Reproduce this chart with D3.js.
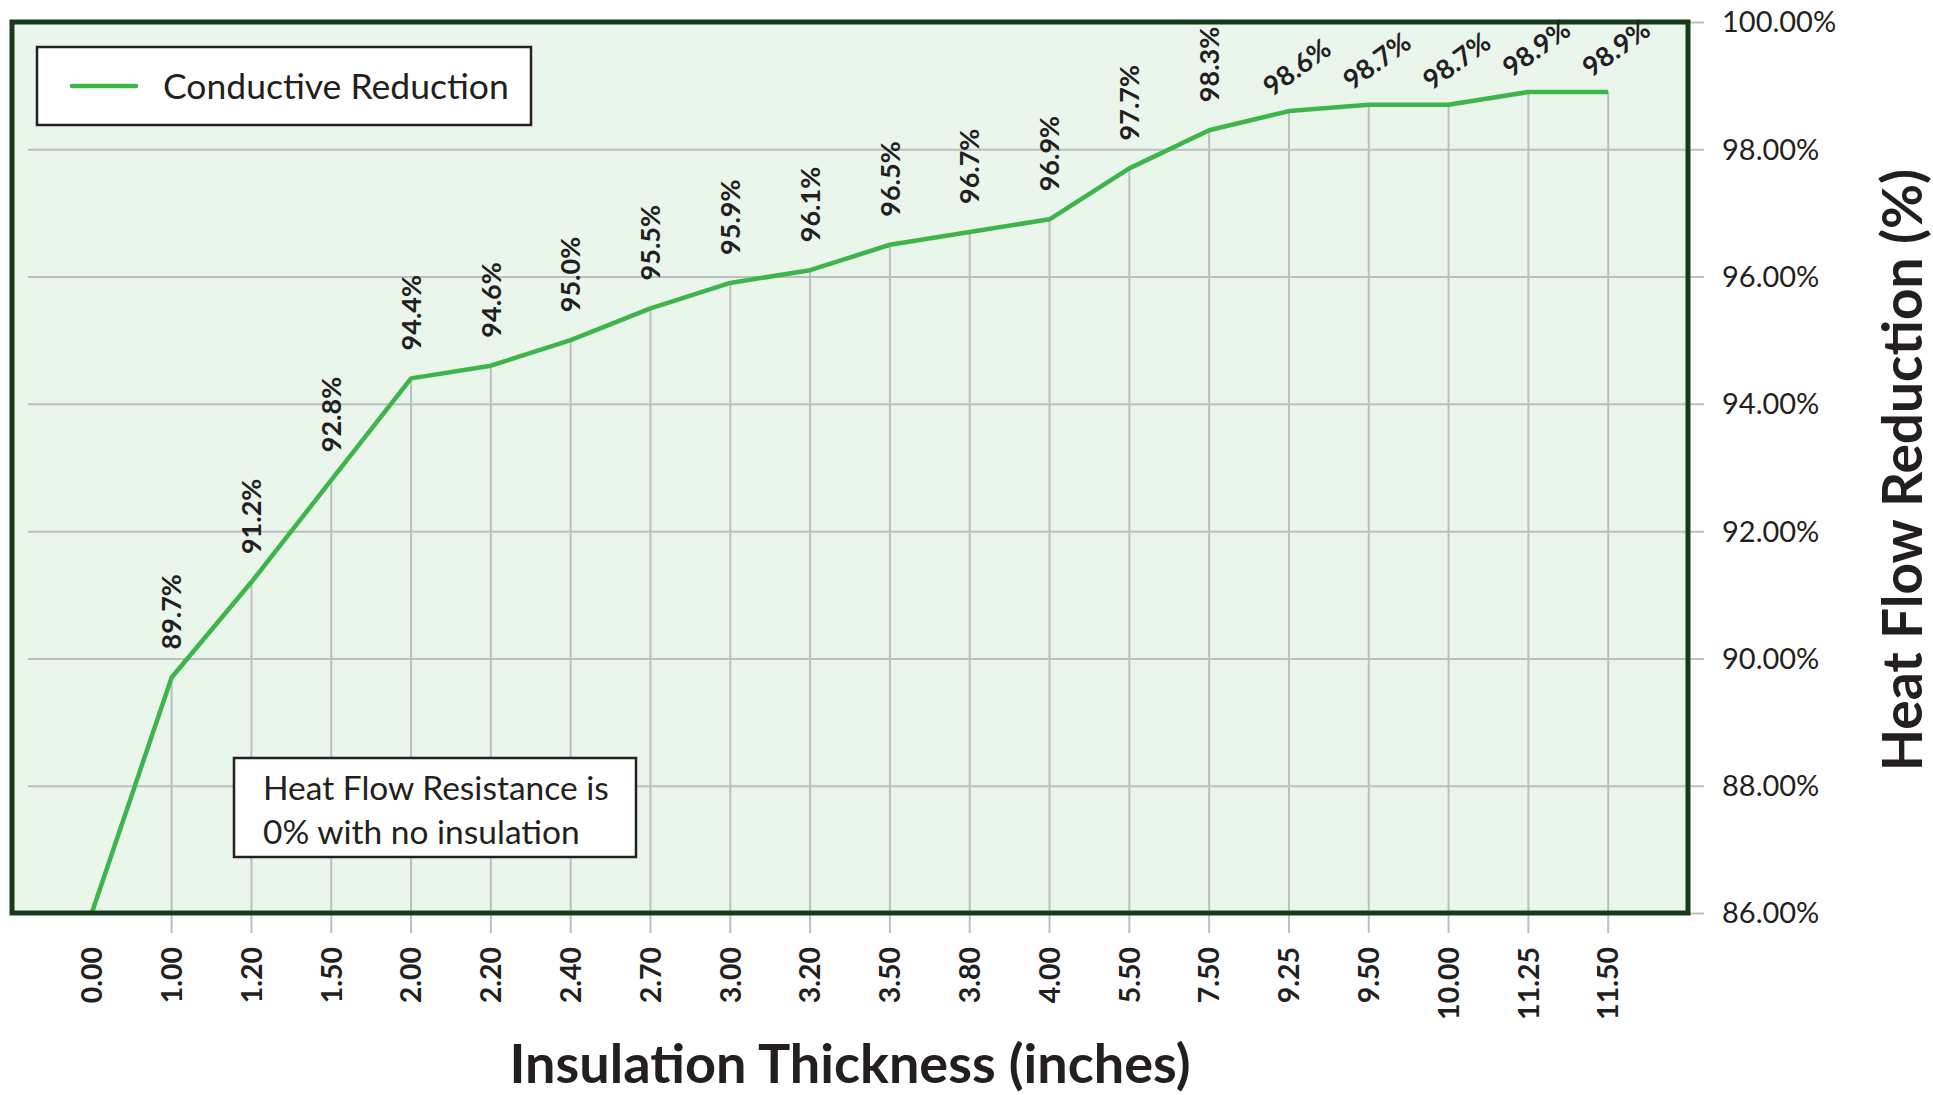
<!DOCTYPE html>
<html>
<head>
<meta charset="utf-8">
<script src="https://cdn.jsdelivr.net/npm/d3@7"></script>
<style>
  html, body { margin: 0; padding: 0; background: #ffffff; }
  svg { display: block; }
  text { font-family: Lato, "Open Sans", sans-serif; fill: #231f20; }
</style>
</head>
<body>
<svg id="chart" width="1933" height="1095"></svg>
<script>
// ---------- data ----------
const categories = ["0.00","1.00","1.20","1.50","2.00","2.20","2.40","2.70","3.00","3.20",
                    "3.50","3.80","4.00","5.50","7.50","9.25","9.50","10.00","11.25","11.50"];
const reduction = [0, 89.7, 91.2, 92.8, 94.4, 94.6, 95.0, 95.5, 95.9, 96.1,
                   96.5, 96.7, 96.9, 97.7, 98.3, 98.6, 98.7, 98.7, 98.9, 98.9];
const yTicks = [86, 88, 90, 92, 94, 96, 98, 100];
const seriesName = "Conductive Reduction";
const noteLines = ["Heat Flow Resistance is", "0% with no insulation"];
const xTitle = "Insulation Thickness (inches)";
const yTitle = "Heat Flow Reduction (%)";

// ---------- layout ----------
const plot = { left: 12, right: 1688, top: 22, bottom: 913 };
const svg = d3.select("#chart");

const x = d3.scalePoint().domain(categories).range([plot.left, plot.right]).padding(1);
const y = d3.scaleLinear().domain([86, 100]).range([plot.bottom, plot.top]).clamp(true);

const green = "#3db54a";
const gridCol = "#bdbfbf";
const frameCol = "#173a1b";

// plot background
svg.append("rect")
  .attr("x", plot.left).attr("y", plot.top)
  .attr("width", plot.right - plot.left).attr("height", plot.bottom - plot.top)
  .attr("fill", "#eaf5ec");

// horizontal gridlines + right axis
const yAxis = d3.axisRight(y).tickValues(yTicks)
  .tickSize(-(plot.right - plot.left))
  .tickFormat(d => d3.format(".2f")(d) + "%");
const ya = svg.append("g").attr("transform", `translate(${plot.right + 16},0)`).call(yAxis);
ya.select(".domain").remove();
ya.selectAll(".tick line").attr("stroke", gridCol).attr("stroke-width", 2);
ya.selectAll(".tick text")
  .attr("x", 18).attr("dy", "0.34em")
  .style("font-size", "29px").style("font-family", "Lato, sans-serif").attr("fill", "#231f20");

// drop lines (also act as category ticks below the axis)
svg.append("g").selectAll("line")
  .data(categories.map((c, i) => ({ c, v: reduction[i] })).filter(d => d.v >= y.domain()[0]))
  .join("line")
  .attr("x1", d => x(d.c)).attr("x2", d => x(d.c))
  .attr("y1", d => y(d.v)).attr("y2", plot.bottom + 20)
  .attr("stroke", gridCol).attr("stroke-width", 2);

// data line
const line = d3.line().x((d, i) => x(categories[i])).y(d => y(d));
svg.append("path").datum(reduction)
  .attr("d", line).attr("fill", "none")
  .attr("stroke", green).attr("stroke-width", 4.5).attr("stroke-linejoin", "round");

// frame
svg.append("rect")
  .attr("x", plot.left).attr("y", plot.top)
  .attr("width", plot.right - plot.left).attr("height", plot.bottom - plot.top)
  .attr("fill", "none").attr("stroke", frameCol).attr("stroke-width", 5);

// x tick labels
svg.append("g").selectAll("text").data(categories).join("text")
  .attr("transform", d => `translate(${x(d)},947) rotate(-90)`)
  .attr("text-anchor", "end").attr("dy", "0.36em")
  .style("font-size", "28.5px").style("font-weight", 700)
  .text(d => d);

// data labels
const labelGap = 28, labelLen = 75;
const lbl = svg.append("g");
reduction.forEach((v, i) => {
  if (v < y.domain()[0]) return;
  const px = x(categories[i]), py = y(v);
  const t = lbl.append("text")
    .style("font-size", "27px").style("font-weight", 700)
    .text(d3.format(".1f")(v) + "%");
  if (py - labelGap - labelLen >= plot.top) {
    t.attr("transform", `translate(${px},${py - labelGap}) rotate(-90)`)
     .attr("text-anchor", "start").attr("dy", "0.36em");
  } else {
    t.attr("transform", `translate(${px + 8},${py - 44}) rotate(-36)`)
     .attr("text-anchor", "middle").attr("dy", "0.36em");
  }
});

// legend
const lg = svg.append("g");
lg.append("rect").attr("x", 37).attr("y", 47).attr("width", 494).attr("height", 78)
  .attr("fill", "#ffffff").attr("stroke", "#222222").attr("stroke-width", 2.5);
lg.append("line").attr("x1", 72).attr("x2", 136).attr("y1", 86).attr("y2", 86)
  .attr("stroke", green).attr("stroke-width", 4.5).attr("stroke-linecap", "round");
lg.append("text").attr("x", 163).attr("y", 86).attr("dy", "0.36em")
  .style("font-size", "35.5px").text(seriesName);

// annotation
const an = svg.append("g");
an.append("rect").attr("x", 234).attr("y", 758).attr("width", 402).attr("height", 99)
  .attr("fill", "#ffffff").attr("stroke", "#222222").attr("stroke-width", 2.5);
noteLines.forEach((s, i) => {
  an.append("text").attr("x", 263).attr("y", 800 + i * 44)
    .style("font-size", "33.5px").text(s);
});

// axis titles
svg.append("text").attr("x", 850).attr("y", 1083).attr("text-anchor", "middle")
  .style("font-size", "54px").style("font-weight", 700).text(xTitle);
svg.append("text").attr("transform", "translate(1902,470) rotate(-90)")
  .attr("text-anchor", "middle").attr("dy", "0.36em")
  .style("font-size", "55px").style("font-weight", 700).text(yTitle);
</script>
</body>
</html>
